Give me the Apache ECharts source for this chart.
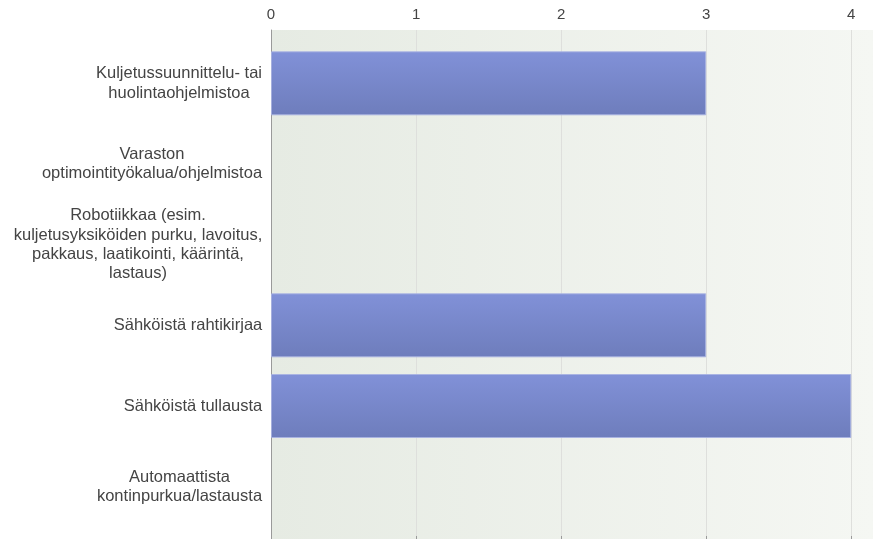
<!DOCTYPE html>
<html>
<head>
<meta charset="utf-8">
<script src="https://cdn.jsdelivr.net/npm/echarts@6/dist/echarts.min.js"></script>
<style>
  html, body { margin: 0; padding: 0; background: #ffffff; }
  #chart { width: 873px; height: 539px; }
</style>
</head>
<body>
<div id="chart"></div>
<script>
// Survey answers: how many respondents use each kind of tool
const categories = [
  'Kuljetussuunnittelu- tai\nhuolintaohjelmistoa',
  'Varaston\noptimointityökalua/ohjelmistoa',
  'Robotiikkaa (esim.\nkuljetusyksiköiden purku, lavoitus,\npakkaus, laatikointi, käärintä,\nlastaus)',
  'Sähköistä rahtikirjaa',
  'Sähköistä tullausta',
  'Automaattista\nkontinpurkua/lastausta'
];
const counts = [3, 0, 0, 3, 4, 0];
const tickValues = [0, 1, 2, 3, 4];

const FONT = '"Liberation Sans", Arial, sans-serif';
const LABEL_SIZE = 16.5;

// Measure each label so that its lines can be centred inside a right-aligned block
const ctx = document.createElement('canvas').getContext('2d');
ctx.font = LABEL_SIZE + 'px ' + FONT.replace(/"/g, '');
const rich = {};
const labelKey = {};
categories.forEach((c, i) => {
  const w = Math.max(...c.split('\n').map(l => ctx.measureText(l).width));
  rich['c' + i] = { width: Math.ceil(w) + 1, align: 'center', fontSize: LABEL_SIZE,
                    fontFamily: FONT, color: '#444444', lineHeight: 19.4 };
  labelKey[c] = 'c' + i;
});

const xMax = 4.15;

// Empty answers get no outline so nothing is drawn for them
const barData = counts.map(v => (v > 0 ? v : { value: v, itemStyle: { borderWidth: 0, opacity: 0 } }));

const chart = echarts.init(document.getElementById('chart'), null, { renderer: 'canvas' });
chart.setOption({
  animation: false,
  grid: [
    { // plot background, axis frame and grid lines
      left: 271, right: 0, top: 30, bottom: 0, show: true, borderWidth: 0,
      backgroundColor: new echarts.graphic.LinearGradient(0, 0, 1, 0, [
        { offset: 0, color: '#e6ebe3' },
        { offset: 1, color: '#f5f7f3' }
      ])
    },
    { // bars
      left: 271, right: 0, top: 43, bottom: 12
    }
  ],
  xAxis: [
    {
      gridIndex: 0, type: 'value', position: 'top', min: 0, max: xMax, interval: 1,
      axisLine: { show: true, lineStyle: { color: '#9a9a9a', width: 1 } },
      axisTick: { show: true, inside: false, length: 3, lineStyle: { color: '#9a9a9a' } },
      axisLabel: {
        show: true, margin: 8, fontSize: 15, fontFamily: FONT, color: '#444444',
        showMaxLabel: false,
        formatter: v => (tickValues.indexOf(v) >= 0 ? String(v) : '')
      },
      splitLine: { show: true, lineStyle: { color: '#dedfdc', width: 1 } }
    },
    {
      gridIndex: 1, type: 'value', min: 0, max: xMax, interval: 1, show: false
    }
  ],
  yAxis: [
    {
      gridIndex: 0, type: 'value', min: 0, max: 1,
      axisLine: { show: true, lineStyle: { color: '#9a9a9a', width: 1 } },
      axisTick: { show: false }, axisLabel: { show: false }, splitLine: { show: false }
    },
    {
      gridIndex: 1, type: 'category', data: categories, inverse: true,
      axisLine: { show: false }, axisTick: { show: false }, splitLine: { show: false },
      axisLabel: {
        margin: 8, align: 'right',
        formatter: v => v.split('\n').map(l => '{' + labelKey[v] + '|' + l + '}').join('\n'),
        rich: rich
      }
    }
  ],
  series: [{
    type: 'bar', xAxisIndex: 1, yAxisIndex: 1, data: barData, barWidth: 64,
    itemStyle: {
      color: new echarts.graphic.LinearGradient(0, 0, 0, 1, [
        { offset: 0, color: '#8191d8' },
        { offset: 1, color: '#6e7dbc' }
      ]),
      borderColor: 'rgba(168,178,226,0.9)', borderWidth: 1
    }
  }]
});
</script>
</body>
</html>
